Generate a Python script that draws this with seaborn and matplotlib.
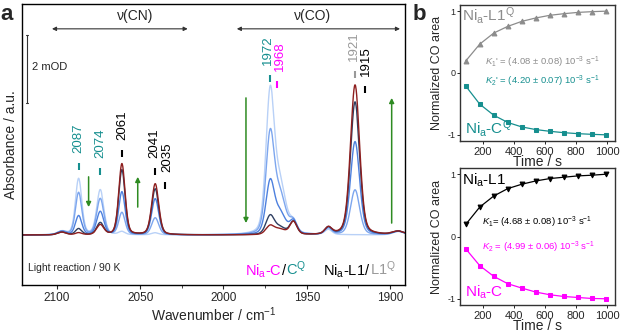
import numpy as np
import pandas as pd
import matplotlib
matplotlib.use("Agg")
import matplotlib.pyplot as plt
import seaborn as sns

# ---- panel a: band table (mOD) ----
SPECTRA = ["t1", "t2", "t3", "t4", "t5"]
SPEC_COLORS = ["#b9d1f7", "#7da6ee", "#4d80de", "#2f3f62", "#8e1f1f"]
BAND_CENTERS = [2097, 2087, 2074, 2061, 2041, 1972, 1966, 1958, 1937, 1921, 1895]
BAND_FWHM = [6, 4.5, 5, 4.5, 5, 6, 8, 5, 5, 6.5, 8]
HEIGHTS = {
    "t1": [0.10, 1.65, 1.32, 0.09, 0.06, 4.05, 1.40, 0.30, 0.15, 0.00, 0.10],
    "t2": [0.10, 1.24, 1.06, 0.65, 0.50, 2.85, 1.10, 0.35, 0.18, 1.32, 0.10],
    "t3": [0.10, 0.56, 0.68, 1.26, 1.06, 1.50, 0.60, 0.38, 0.20, 2.74, 0.10],
    "t4": [0.08, 0.18, 0.35, 1.91, 1.35, 0.54, 0.20, 0.38, 0.20, 3.91, 0.10],
    "t5": [0.08, 0.06, 0.29, 2.09, 1.50, 0.25, 0.15, 0.38, 0.20, 4.41, 0.10],
}

PEAK_LABELS = ["2087", "2074", "2061", "2041", "2035", "1972", "1968", "1921", "1915"]
PEAK_POS = [2087, 2074, 2061, 2041, 2035, 1972, 1968, 1921, 1915]
PEAK_MARK_Y = [1.91, 1.76, 2.29, 1.76, 1.35, 4.50, 4.32, 4.62, 4.18]
PEAK_COLORS = ["#168f8f", "#168f8f", "black", "black", "black",
               "#168f8f", "#ff00ff", "#999999", "black"]
LABEL_SHIFT = [0, 0, 0, 0.3, -1.4, 1.0, -2.0, 0.4, -0.8]

# ---- panel b: kinetics ----
TIME = [90, 180, 270, 360, 450, 540, 630, 720, 810, 900, 990]
L1Q = [0.195, 0.467, 0.646, 0.754, 0.835, 0.890, 0.933, 0.959, 0.980, 0.992, 1.0]
CQ = [-0.211, -0.504, -0.683, -0.800, -0.872, -0.915, -0.943, -0.965, -0.981, -0.992, -1.0]
L1 = [0.194, 0.473, 0.650, 0.769, 0.839, 0.892, 0.930, 0.952, 0.973, 0.984, 1.0]
C = [-0.198, -0.468, -0.640, -0.758, -0.828, -0.892, -0.935, -0.963, -0.979, -0.995, -1.0]

TEAL = "#168f8f"
MAGENTA = "#ff00ff"
GRAY = "#999999"
GREEN = "#2e8b22"

sns.set_theme(style="ticks")
plt.rcParams["font.family"] = ["Liberation Sans", "DejaVu Sans"]
plt.rcParams["mathtext.fontset"] = "custom"
plt.rcParams["mathtext.rm"] = "Liberation Sans"
plt.rcParams["mathtext.it"] = "Liberation Sans:italic"
plt.rcParams["axes.unicode_minus"] = False


def band(x, c, fwhm, eta=0.3):
    g = np.exp(-4 * np.log(2) * ((x - c) / fwhm) ** 2)
    lor = 1.0 / (1.0 + (2 * (x - c) / fwhm) ** 2)
    return (1 - eta) * g + eta * lor


wn = np.linspace(2122, 1890, 1400)
rows = []
for s in SPECTRA:
    y = np.zeros_like(wn)
    for c, w, h in zip(BAND_CENTERS, BAND_FWHM, HEIGHTS[s]):
        y += h * band(wn, c, w)
    rows.append(pd.DataFrame({"wn": wn, "abs": y, "spec": s}))
spec_df = pd.concat(rows, ignore_index=True)

fig = plt.figure(figsize=(6.2, 3.32), dpi=100)
ax = fig.add_axes([22 / 620, 47 / 332, 383 / 620, 281 / 332])

sns.lineplot(data=spec_df, x="wn", y="abs", hue="spec", hue_order=SPECTRA,
             palette=SPEC_COLORS, estimator=None, legend=False, lw=1.0, ax=ax)
ax.set_xlim(2121, 1891)
ax.set_ylim(-1.47, 6.79)
ax.set_yticks([])
ax.set_xticks([2100, 2050, 2000, 1950, 1900])
ax.set_xticks(np.arange(2100, 1890, -25), minor=True)
ax.tick_params(axis="x", labelsize=8.5, length=3, width=0.8, pad=2)
ax.tick_params(axis="x", which="minor", length=2, width=0.6)
ax.set_xlabel("Wavenumber / cm$^{-1}$", fontsize=10, labelpad=1)
ax.set_ylabel("Absorbance / a.u.", fontsize=10, labelpad=3)
for sp in ax.spines.values():
    sp.set_linewidth(1.0)
    sp.set_color("black")

# peak marks and labels
for lab, x, ym, col, dx in zip(PEAK_LABELS, PEAK_POS, PEAK_MARK_Y, PEAK_COLORS, LABEL_SHIFT):
    ax.plot([x, x], [ym, ym + 0.21], color=col, lw=1.5, solid_capstyle="butt")
    ax.text(x + dx, ym + 0.5, lab, rotation=90, ha="center", va="bottom",
            color=col, fontsize=9.5)

# trend arrows
for x, y0, y1 in [(2081, 1.71, 0.82), (2051.5, 0.82, 1.71),
                  (1986.5, 4.03, 0.35), (1899, 0.35, 4.03)]:
    ax.annotate("", xy=(x, y1), xytext=(x, y0),
                arrowprops=dict(arrowstyle="-|>", color=GREEN, lw=1.1,
                                mutation_scale=7, shrinkA=0, shrinkB=0))

# nu(CN) / nu(CO) ranges
for x0, x1, xt, lab in [(2103, 2021.5, 2053, "ν(CN)"), (1992, 1894, 1946.5, "ν(CO)")]:
    ax.annotate("", xy=(x1, 6.06), xytext=(x0, 6.06),
                arrowprops=dict(arrowstyle="<|-|>", color="#333333", lw=0.8,
                                mutation_scale=6, shrinkA=0, shrinkB=0))
    ax.text(xt, 6.45, lab, ha="center", va="center", fontsize=10)

# 2 mOD scale bar
ax.plot([2118, 2118], [3.88, 5.88], color="#333333", lw=0.8)
ax.plot([2118.8, 2117.2], [3.88, 3.88], color="#333333", lw=0.8)
ax.plot([2118.8, 2117.2], [5.88, 5.88], color="#333333", lw=0.8)
ax.text(2115, 4.94, "2 mOD", ha="left", va="center", fontsize=8)

ax.text(0.016, 0.06, "Light reaction / 90 K", transform=ax.transAxes,
        ha="left", va="center", fontsize=7.5)

# coloured species legend
yb = 0.035
t = ax.text(0.582, yb, "Ni$_\\mathrm{a}$-C", transform=ax.transAxes,
            ha="left", va="baseline", color=MAGENTA, fontsize=10.5)
for txt, col in [("/", "black"), ("C$^\\mathrm{Q}$", TEAL)]:
    t = ax.annotate(txt, xy=(1, yb), xycoords=(t, "axes fraction"),
                    ha="left", va="baseline", color=col, fontsize=10.5)
t = ax.text(0.786, yb, "Ni$_\\mathrm{a}$-L1/", transform=ax.transAxes,
            ha="left", va="baseline", color="black", fontsize=10.5)
ax.annotate("L1$^\\mathrm{Q}$", xy=(1, yb), xycoords=(t, "axes fraction"),
            ha="left", va="baseline", color=GRAY, fontsize=10.5)

# ---- panel b ----
axb1 = fig.add_axes([460 / 620, 191 / 332, 155 / 620, 136 / 332])
axb2 = fig.add_axes([460 / 620, 27 / 332, 155 / 620, 137 / 332])

kin = pd.DataFrame({"t": TIME, "L1Q": L1Q, "CQ": CQ, "L1": L1, "C": C})
sns.lineplot(data=kin, x="t", y="L1Q", color="#8c8c8c", marker="^", ms=3.5,
             mec="#8c8c8c", lw=0.9, ax=axb1)
sns.lineplot(data=kin, x="t", y="CQ", color=TEAL, marker="s", ms=3,
             mec=TEAL, lw=0.9, ax=axb1)
sns.lineplot(data=kin, x="t", y="L1", color="black", marker="v", ms=3.5,
             mec="black", lw=0.9, ax=axb2)
sns.lineplot(data=kin, x="t", y="C", color=MAGENTA, marker="s", ms=3,
             mec=MAGENTA, lw=0.9, ax=axb2)

for a in (axb1, axb2):
    a.set_xlim(53, 1050)
    a.set_ylim(-1.1, 1.1)
    a.set_xticks([200, 400, 600, 800, 1000])
    a.set_yticks([-1, 0, 1])
    a.tick_params(axis="x", labelsize=8, length=2.5, width=0.7, pad=1.5)
    a.tick_params(axis="y", labelsize=6.5, length=2, width=0.7, pad=1.5)
    a.set_xlabel("Time / s", fontsize=10, labelpad=-1)
    a.set_ylabel("Normalized CO area", fontsize=9, labelpad=3)
    for sp in a.spines.values():
        sp.set_linewidth(1.0)
        sp.set_color("#333333")

axb1.text(0.013, 0.92, "Ni$_\\mathrm{a}$-L1$^\\mathrm{Q}$", transform=axb1.transAxes,
          color="#8c8c8c", fontsize=11, va="center")
axb1.text(0.16, 0.58, "$K_1$' = (4.08 ± 0.08) 10$^{-3}$ s$^{-1}$",
          transform=axb1.transAxes, color="#8c8c8c", fontsize=6.8, va="center")
axb1.text(0.16, 0.44, "$K_2$' = (4.20 ± 0.07) 10$^{-3}$ s$^{-1}$",
          transform=axb1.transAxes, color=TEAL, fontsize=6.8, va="center")
axb1.text(0.03, 0.09, "Ni$_\\mathrm{a}$-C$^\\mathrm{Q}$", transform=axb1.transAxes,
          color=TEAL, fontsize=11, va="center")

axb2.text(0.013, 0.91, "Ni$_\\mathrm{a}$-L1", transform=axb2.transAxes,
          color="black", fontsize=11, va="center")
axb2.text(0.14, 0.60, "$K_1$= (4.68 ± 0.08) 10$^{-3}$ s$^{-1}$",
          transform=axb2.transAxes, color="black", fontsize=6.8, va="center")
axb2.text(0.14, 0.42, "$K_2$ = (4.99 ± 0.06) 10$^{-3}$ s$^{-1}$",
          transform=axb2.transAxes, color=MAGENTA, fontsize=6.8, va="center")
axb2.text(0.03, 0.09, "Ni$_\\mathrm{a}$-C", transform=axb2.transAxes,
          color=MAGENTA, fontsize=11, va="center")

fig.text(0.0, 0.955, "a", fontsize=16, fontweight="bold", va="center")
fig.text(413 / 620, 0.955, "b", fontsize=16, fontweight="bold", va="center")

fig.savefig("out.png", dpi=100)
